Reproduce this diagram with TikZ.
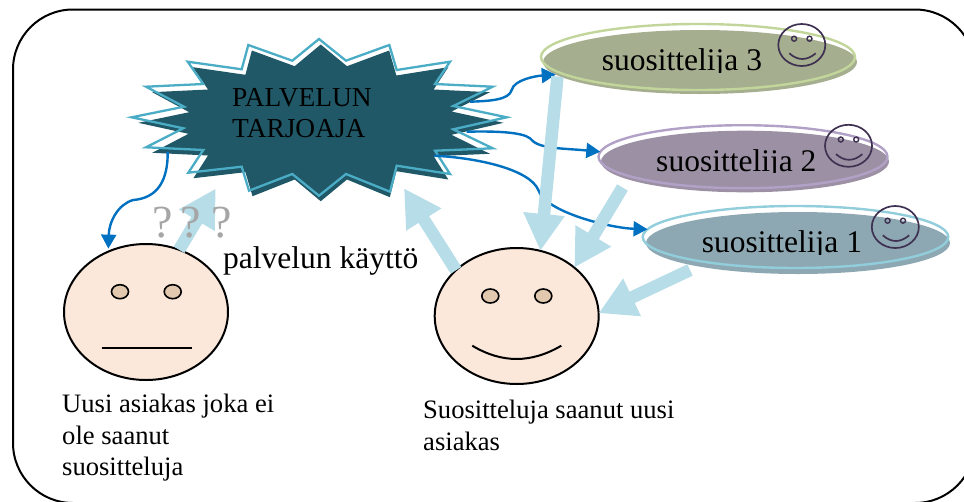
\documentclass[tikz,border=0pt]{standalone}
\usepackage{fontspec}
\setmainfont{Liberation Serif}
\usepackage{tikz}
\usetikzlibrary{shapes.geometric,arrows.meta}
\definecolor{tahtitumma}{HTML}{205867}
\definecolor{tahtireuna}{HTML}{4BACC6}
\definecolor{paksunuoli}{HTML}{B7DDE8}
\definecolor{ohutnuoli}{HTML}{0070C0}
\definecolor{naamaiho}{HTML}{FBE8DA}
\definecolor{naamasilma}{HTML}{E3C8B0}
\definecolor{hymyviiva}{HTML}{3F3151}
\definecolor{suos3}{HTML}{A6AE90}
\definecolor{kuori3}{HTML}{C2D69B}
\definecolor{suos2}{HTML}{9C91A4}
\definecolor{kuori2}{HTML}{B2A1C7}
\definecolor{suos1}{HTML}{8DA8B2}
\definecolor{kuori1}{HTML}{92CDDC}
\newcommand{\tahtipolku}{(319,39) -- (346,60.7) -- (389.3,45) -- (396.7,70) -- (450,61.7) -- (435,84) -- (492.7,86.7) -- (453.3,106) -- (506.7,117.3) -- (453.3,129.3) -- (492.7,148.3) -- (435,150.7) -- (450,174) -- (396.7,165.7) -- (390,191.7) -- (346,174) -- (319,195.7) -- (292.3,174) -- (249,190.7) -- (241.7,166.7) -- (188.3,172.7) -- (203.3,150) -- (146,147.3) -- (183.3,128.3) -- (131.7,117.3) -- (184,106.7) -- (146,86.7) -- (203.3,84) -- (187.7,61.7) -- (241.7,69.3) -- (248.3,45) -- (292.3,60.7) -- cycle}
\newcommand{\pienihymy}[3]{
  \begin{scope}[shift={(#2,#3)}]
    \node[hymynaama] (#1) at (0,0) {};
    \node[hymysilma] (#1a) at (-7.7,-6.3) {};
    \node[hymysilma] (#1b) at (7.7,-6.3) {};
    \draw[hymyviiva,line width=1.7pt] (-12.5,8.3) .. controls (-4,15.9) and (5,15.9) .. (13.9,8.3);
  \end{scope}
}
\newcommand{\rajattuteksti}[4]{
  \begin{scope}
    \clip (#3-90,#4-30) rectangle (#3+90,#4+1.7);
    \node[isoteksti,anchor=base] (#1) at (#3,#4) {#2};
  \end{scope}
}

\begin{document}
\begin{tikzpicture}[
  x=1pt,y=-1pt,
  isoteksti/.style={inner sep=0,font=\fontsize{31.5}{31.5}\selectfont},
  pieniteksti/.style={inner sep=0,align=left,font=\fontsize{26.6}{31.5}\selectfont},
  kysymys/.style={inner sep=0,anchor=base,text=black!35,font=\fontsize{46}{46}\selectfont},
  myface/.style={draw,ellipse,line width=2pt,fill=naamaiho,minimum width=164pt,minimum height=136pt,inner sep=0,outer sep=0},
  myeye/.style={draw,ellipse,line width=1.6pt,fill=naamasilma,minimum width=17pt,minimum height=14pt,inner sep=0,outer sep=0},
  mykuori/.style={draw,ellipse,line width=2.4pt,inner sep=0,outer sep=0},
  myvarjo/.style={ellipse,inner sep=0,outer sep=0},
  hymynaama/.style={draw=hymyviiva,ellipse,line width=1.7pt,minimum width=47pt,minimum height=42pt,inner sep=0,outer sep=0},
  hymysilma/.style={draw=hymyviiva,circle,line width=1.4pt,minimum width=5pt,inner sep=0,outer sep=0},
  paksu/.style={paksunuoli,line width=12.5pt,-{Triangle[length=37pt,width=39pt]}},
  ohut/.style={ohutnuoli,line width=2.4pt,-{Triangle[length=14pt,width=15pt]}},
]
\clip (0,0) rectangle (964,501);
\draw[line width=2pt,rounded corners=60pt] (13,9.5) rectangle (975,503);

% palveluntarjoaja
\fill[tahtitumma,shift={(10,5.5)},xscale=.974] \tahtipolku;
\draw[tahtireuna,line width=2.3pt] \tahtipolku;
\node[inner sep=0,anchor=north west,align=left,font=\fontsize{27.4}{31.7}\selectfont] (tarjoaja) at (232,88) {PALVELUN\\TARJOAJA};
\coordinate (lahto0) at (167.7,151.7);
\coordinate (lahto1) at (434.3,155.7);
\coordinate (lahto2) at (466.7,131.7);
\coordinate (lahto3) at (470,101.7);

% suosittelijat
\node[myvarjo,fill=suos3,minimum width=314pt,minimum height=64pt] (varjo3) at (700,62) {};
\node[mykuori,draw=kuori3,minimum width=314pt,minimum height=66pt] (suos3) at (698,57) {};
\node[myvarjo,fill=suos2,minimum width=288pt,minimum height=61.6pt] (varjo2) at (745,161.5) {};
\node[mykuori,draw=kuori2,minimum width=289pt,minimum height=63pt] (suos2) at (743,156.7) {};
\node[myvarjo,fill=suos1,minimum width=304pt,minimum height=62pt] (varjo1) at (798,243) {};
\node[mykuori,draw=kuori1,minimum width=305.6pt,minimum height=62pt] (suos1) at (795.5,237) {};
\rajattuteksti{teksti3}{suosittelija 3}{682}{70.7}
\rajattuteksti{teksti2}{suosittelija 2}{736.3}{171}
\rajattuteksti{teksti1}{suosittelija 1}{782}{252.3}
\pienihymy{hymy3}{801.8}{45}
\pienihymy{hymy2}{848.5}{145.8}
\pienihymy{hymy1}{895.3}{227}

% asiakkaat
\node[myface] (vasen) at (146,312) {};
\node[myeye] (vasena) at (120,291.7) {};
\node[myeye] (vasenb) at (172.7,291.7) {};
\draw[line width=2pt] (101.7,348) -- (191.7,348);
\node[myface] (oikea) at (516.7,316) {};
\node[myeye] (oikeaa) at (490.3,296) {};
\node[myeye] (oikeab) at (543.3,296) {};
\draw[line width=2pt] (472.3,345.7) .. controls (502,363.4) and (531,363.4) .. (561.3,345.7);

% ohuet nuolet
\draw[ohut,shorten >=3pt] (lahto0) .. controls (168,180) and (158,198) .. (133.3,200) .. controls (118,204) and (109,222) .. (vasen.122);
\draw[ohut] (lahto3) .. controls (490,101) and (509,100) .. (511.7,90) .. controls (514,80) and (535,76) .. (varjo3.185);
\draw[ohut] (lahto2) .. controls (495,131) and (522,132) .. (530,138.3) .. controls (538,149) and (560,148) .. (suos2.178);
\draw[ohut] (lahto1) .. controls (480,158) and (530,170) .. (538.3,190) .. controls (545,212) and (610,228) .. (suos1.177);

% paksut nuolet
\coordinate (hanta3) at (557.5,76.5);
\coordinate (hanta2) at (622.5,187.5);
\coordinate (hanta1) at (690,270);
\coordinate (karki0) at (215.8,188.5);
\coordinate (karki1) at (404,188.3);
\draw[paksu] (hanta3) -- (oikea.70);
\draw[paksu] (hanta2) -- (oikea.40);
\draw[paksu] (hanta1) -- (oikea.2);
\draw[paksu] (oikea.143) -- (karki1);
\draw[paksu] (vasen.62) -- (karki0);

% tekstit
\node[kysymys] (kysymysa) at (162.7,237) {?};
\node[kysymys] (kysymysb) at (191,237) {?};
\node[kysymys] (kysymysc) at (221.7,237) {?};
\node[isoteksti,anchor=base west] (kaytto) at (223,268.3) {palvelun käyttö};
\node[pieniteksti,anchor=north west] (vasenteksti) at (62,394) {Uusi asiakas joka ei\\ole saanut\\suositteluja};
\node[pieniteksti,anchor=north west] (oikeateksti) at (423,400) {Suositteluja saanut uusi\\asiakas};
\end{tikzpicture}
\end{document}
